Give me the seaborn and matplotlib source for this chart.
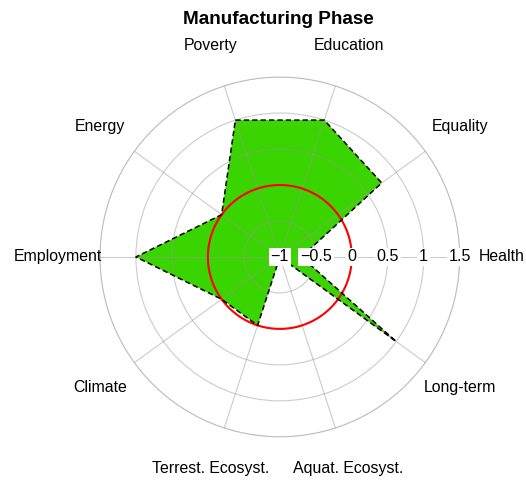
import numpy as np
import pandas as pd
import matplotlib
matplotlib.use("Agg")
import matplotlib.pyplot as plt
import seaborn as sns

categories = ["Poverty", "Education", "Equality", "Health", "Long-term",
              "Aquat. Ecosyst.", "Terrest. Ecosyst.", "Climate", "Employment", "Energy"]
values = [1.0, 1.0, 0.75, -0.7, 1.0, -1.0, 0.0, 0.0, 1.0, 0.0]
r_ticks = [-1, -0.5, 0, 0.5, 1, 1.5]
r_tick_labels = ["\u22121", "\u22120.5", "0", "0.5", "1", "1.5"]
title = "Manufacturing Phase"

sns.set_theme(style="white")
plt.rcParams["font.family"] = ["Liberation Sans", "DejaVu Sans"]
plt.rcParams["text.color"] = "black"

fig = plt.figure(figsize=(5.26, 4.82), dpi=100)
ax = fig.add_axes([0.190, 0.0934, 0.684, 0.747], projection="polar")

n = len(categories)
theta = np.deg2rad(108 - 36 * np.arange(n)) % (2 * np.pi)
theta_c = np.append(theta, theta[0])
vals_c = np.append(values, values[0])
df = pd.DataFrame({"theta": theta_c, "value": vals_c})

ax.fill(df["theta"], df["value"], color="#3AD400", zorder=1, lw=0)

circ = np.linspace(0, 2 * np.pi, 400)
ax.plot(circ, np.zeros_like(circ), color="red", lw=1.5, zorder=3)

sns.lineplot(data=df, x="theta", y="value", sort=False, estimator=None,
             color="black", lw=1.1, linestyle=(0, (3.5, 2)), ax=ax, zorder=4)
ax.set_xlabel("")
ax.set_ylabel("")

ax.set_xlim(0, 2 * np.pi)
ax.set_ylim(r_ticks[0], r_ticks[-1])
ax.set_yticks(r_ticks[1:])
ax.set_yticklabels([])
ax.set_xticks(theta)
ax.set_xticklabels([])
ax.set_axisbelow(False)
ax.grid(True, color="#999999", alpha=0.5, lw=0.8)
ax.spines["polar"].set_color("#999999")
ax.spines["polar"].set_alpha(0.5)
ax.spines["polar"].set_linewidth(0.8)
ax.set_facecolor("white")

for t, cat in zip(theta, categories):
    ax.text(t, 2.09, cat, ha="center", va="center", fontsize=11.4, clip_on=False)

for v, lab in zip(r_ticks, r_tick_labels):
    ax.text(0, v, lab, ha="center", va="center", fontsize=11.6, zorder=6,
            bbox=dict(boxstyle="square,pad=0.12", fc="white", ec="none"))

fig.text(0.5295, 0.96, title, ha="center", va="center", fontsize=13.6,
         fontweight="bold")

fig.savefig("out.png", dpi=100)
